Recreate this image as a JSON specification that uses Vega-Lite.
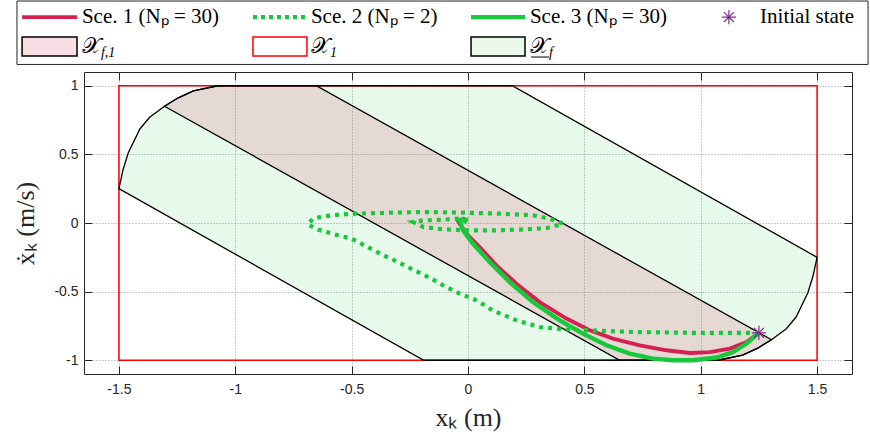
{
  "$schema": "https://vega.github.io/schema/vega-lite/v6.json",
  "width": 768,
  "height": 302,
  "autosize": "none",
  "padding": {"left": 84, "top": 72, "right": 18, "bottom": 65},
  "background": "white",
  "config": {
    "view": {"stroke": "#262626", "strokeWidth": 1},
    "axis": {
      "domain": false,
      "labelFont": "Liberation Sans",
      "labelFontSize": 14,
      "labelColor": "#262626",
      "tickColor": "#262626",
      "titleFont": "Liberation Serif",
      "titleFontWeight": "normal",
      "titleFontSize": 26,
      "titleColor": "#262626"
    }
  },
  "datasets": {
    "xf": [
      {"i": 0, "x": -1.5, "y": 0.25}, {"i": 1, "x": -1.482, "y": 0.39}, {"i": 2, "x": -1.46, "y": 0.51},
      {"i": 3, "x": -1.41, "y": 0.685}, {"i": 4, "x": -1.368, "y": 0.77}, {"i": 5, "x": -1.304, "y": 0.85},
      {"i": 6, "x": -1.245, "y": 0.912}, {"i": 7, "x": -1.18, "y": 0.963}, {"i": 8, "x": -1.08, "y": 0.998},
      {"i": 9, "x": -1.05, "y": 1}, {"i": 10, "x": 0.19, "y": 1}, {"i": 11, "x": 1.5, "y": -0.25},
      {"i": 12, "x": 1.482, "y": -0.39}, {"i": 13, "x": 1.46, "y": -0.51}, {"i": 14, "x": 1.41, "y": -0.685},
      {"i": 15, "x": 1.368, "y": -0.77}, {"i": 16, "x": 1.304, "y": -0.85}, {"i": 17, "x": 1.245, "y": -0.912},
      {"i": 18, "x": 1.18, "y": -0.963}, {"i": 19, "x": 1.08, "y": -0.998}, {"i": 20, "x": 1.05, "y": -1},
      {"i": 21, "x": -0.19, "y": -1}
    ],
    "xf1": [
      {"i": 0, "x": -1.304, "y": 0.85}, {"i": 1, "x": -1.245, "y": 0.912}, {"i": 2, "x": -1.18, "y": 0.963},
      {"i": 3, "x": -1.08, "y": 0.998}, {"i": 4, "x": -1.05, "y": 1}, {"i": 5, "x": -0.652, "y": 1},
      {"i": 6, "x": 1.304, "y": -0.85}, {"i": 7, "x": 1.245, "y": -0.912}, {"i": 8, "x": 1.18, "y": -0.963},
      {"i": 9, "x": 1.08, "y": -0.998}, {"i": 10, "x": 1.05, "y": -1}, {"i": 11, "x": 0.652, "y": -1}
    ],
    "sce1": [
      {"i": 0, "x": 1.25, "y": -0.8}, {"i": 1, "x": 1.197, "y": -0.867}, {"i": 2, "x": 1.125, "y": -0.915},
      {"i": 3, "x": 1.039, "y": -0.94}, {"i": 4, "x": 0.953, "y": -0.947}, {"i": 5, "x": 0.853, "y": -0.927},
      {"i": 6, "x": 0.738, "y": -0.891}, {"i": 7, "x": 0.623, "y": -0.842}, {"i": 8, "x": 0.523, "y": -0.781},
      {"i": 9, "x": 0.423, "y": -0.696}, {"i": 10, "x": 0.308, "y": -0.576}, {"i": 11, "x": 0.208, "y": -0.442},
      {"i": 12, "x": 0.122, "y": -0.308}, {"i": 13, "x": 0.05, "y": -0.175}, {"i": 14, "x": -0.007, "y": -0.078},
      {"i": 15, "x": -0.036, "y": -0.005}, {"i": 16, "x": -0.044, "y": 0.019}, {"i": 17, "x": -0.03, "y": 0.025}
    ],
    "sce2": [
      {"i": 0, "x": 1.25, "y": -0.8}, {"i": 1, "x": 0.996, "y": -0.801}, {"i": 2, "x": 0.709, "y": -0.794},
      {"i": 3, "x": 0.423, "y": -0.776}, {"i": 4, "x": 0.308, "y": -0.758}, {"i": 5, "x": 0.208, "y": -0.709},
      {"i": 6, "x": 0.107, "y": -0.638}, {"i": 7, "x": 0.036, "y": -0.563}, {"i": 8, "x": -0.036, "y": -0.514},
      {"i": 9, "x": -0.107, "y": -0.454}, {"i": 10, "x": -0.165, "y": -0.398}, {"i": 11, "x": -0.236, "y": -0.34},
      {"i": 12, "x": -0.308, "y": -0.279}, {"i": 13, "x": -0.372, "y": -0.228}, {"i": 14, "x": -0.437, "y": -0.17},
      {"i": 15, "x": -0.501, "y": -0.114}, {"i": 16, "x": -0.573, "y": -0.083}, {"i": 17, "x": -0.645, "y": -0.048},
      {"i": 18, "x": -0.688, "y": -0.01}, {"i": 19, "x": -0.666, "y": 0.032}, {"i": 20, "x": -0.623, "y": 0.048},
      {"i": 21, "x": -0.551, "y": 0.061}, {"i": 22, "x": -0.48, "y": 0.068}, {"i": 23, "x": -0.337, "y": 0.075},
      {"i": 24, "x": -0.193, "y": 0.08}, {"i": 25, "x": -0.007, "y": 0.075}, {"i": 26, "x": 0.136, "y": 0.068},
      {"i": 27, "x": 0.279, "y": 0.056}, {"i": 28, "x": 0.351, "y": 0.032}, {"i": 29, "x": 0.408, "y": -0.005},
      {"i": 30, "x": 0.337, "y": -0.037}, {"i": 31, "x": 0.222, "y": -0.048}, {"i": 32, "x": 0.107, "y": -0.054},
      {"i": 33, "x": -0.007, "y": -0.054}, {"i": 34, "x": -0.107, "y": -0.046}, {"i": 35, "x": -0.193, "y": -0.029},
      {"i": 36, "x": -0.236, "y": 0.007}, {"i": 37, "x": -0.193, "y": 0.019}, {"i": 38, "x": -0.107, "y": 0.024},
      {"i": 39, "x": -0.036, "y": 0.032}, {"i": 40, "x": 0.0, "y": 0.0}
    ],
    "sce3": [
      {"i": 0, "x": 1.25, "y": -0.8}, {"i": 1, "x": 1.197, "y": -0.878}, {"i": 2, "x": 1.139, "y": -0.94},
      {"i": 3, "x": 1.068, "y": -0.98}, {"i": 4, "x": 0.967, "y": -1.0}, {"i": 5, "x": 0.881, "y": -1.0},
      {"i": 6, "x": 0.795, "y": -0.988}, {"i": 7, "x": 0.695, "y": -0.951}, {"i": 8, "x": 0.595, "y": -0.891},
      {"i": 9, "x": 0.494, "y": -0.806}, {"i": 10, "x": 0.394, "y": -0.709}, {"i": 11, "x": 0.279, "y": -0.576},
      {"i": 12, "x": 0.179, "y": -0.43}, {"i": 13, "x": 0.093, "y": -0.284}, {"i": 14, "x": 0.021, "y": -0.15},
      {"i": 15, "x": -0.021, "y": -0.054}, {"i": 16, "x": -0.036, "y": 0.019}, {"i": 17, "x": -0.02, "y": 0.03},
      {"i": 18, "x": 0.0, "y": 0.02}
    ]
  },
  "layer": [
    {
      "data": {"values": [{"x": -1.5, "x2": 1.5, "y": -1, "y2": 1}]},
      "mark": {"type": "rect", "filled": false, "stroke": "#FF0000", "strokeWidth": 1.5},
      "encoding": {
        "x": {"field": "x", "type": "quantitative", "scale": {"domain": [-1.65, 1.65], "nice": false, "zero": false},
          "axis": {"values": [-1.5, -1, -0.5, 0, 0.5, 1, 1.5], "labelExpr": "datum.value + ''", "grid": true,
            "gridDash": [1, 2], "gridColor": "#9a9a9a", "tickSize": -8, "labelPadding": 16,
            "title": "xₖ  (m)", "titlePadding": 8}},
        "x2": {"field": "x2"},
        "y": {"field": "y", "type": "quantitative", "scale": {"domain": [-1.1, 1.1], "nice": false, "zero": false},
          "axis": {"values": [-1, -0.5, 0, 0.5, 1], "labelExpr": "datum.value + ''", "grid": true,
            "gridDash": [1, 2], "gridColor": "#9a9a9a", "tickSize": -8, "labelPadding": 14,
            "title": "ẋₖ  (m/s)", "titlePadding": 15}},
        "y2": {"field": "y2"}
      }
    },
    {
      "data": {"name": "xf"},
      "mark": {"type": "line", "interpolate": "linear-closed", "fill": "#14C832", "fillOpacity": 0.1, "stroke": "#000000", "strokeWidth": 1.3},
      "encoding": {
        "x": {"field": "x", "type": "quantitative", "scale": {"domain": [-1.65, 1.65], "nice": false, "zero": false},
          "axis": {"orient": "top", "values": [-1.5, -1, -0.5, 0, 0.5, 1, 1.5], "labels": false, "grid": false, "tickSize": -8, "title": null}},
        "y": {"field": "y", "type": "quantitative", "scale": {"domain": [-1.1, 1.1], "nice": false, "zero": false},
          "axis": {"orient": "right", "values": [-1, -0.5, 0, 0.5, 1], "labels": false, "grid": false, "tickSize": -8, "title": null}},
        "order": {"field": "i", "type": "quantitative"}
      }
    },
    {
      "data": {"name": "xf1"},
      "mark": {"type": "line", "interpolate": "linear-closed", "fill": "#DC1E50", "fillOpacity": 0.14, "stroke": "#000000", "strokeWidth": 1.3},
      "encoding": {
        "x": {"field": "x", "type": "quantitative", "scale": {"domain": [-1.65, 1.65], "nice": false, "zero": false}, "axis": null},
        "y": {"field": "y", "type": "quantitative", "scale": {"domain": [-1.1, 1.1], "nice": false, "zero": false}, "axis": null},
        "order": {"field": "i", "type": "quantitative"}
      }
    },
    {
      "data": {"name": "sce1"},
      "mark": {"type": "line", "stroke": "#D6204F", "strokeWidth": 3.8},
      "encoding": {
        "x": {"field": "x", "type": "quantitative", "scale": {"domain": [-1.65, 1.65], "nice": false, "zero": false}, "axis": null},
        "y": {"field": "y", "type": "quantitative", "scale": {"domain": [-1.1, 1.1], "nice": false, "zero": false}, "axis": null},
        "order": {"field": "i", "type": "quantitative"}
      }
    },
    {
      "data": {"name": "sce2"},
      "mark": {"type": "line", "stroke": "#17C83C", "strokeWidth": 4.2, "strokeDash": [4, 5], "strokeCap": "butt"},
      "encoding": {
        "x": {"field": "x", "type": "quantitative", "scale": {"domain": [-1.65, 1.65], "nice": false, "zero": false}, "axis": null},
        "y": {"field": "y", "type": "quantitative", "scale": {"domain": [-1.1, 1.1], "nice": false, "zero": false}, "axis": null},
        "order": {"field": "i", "type": "quantitative"}
      }
    },
    {
      "data": {"name": "sce3"},
      "mark": {"type": "line", "stroke": "#17C83C", "strokeWidth": 4.4},
      "encoding": {
        "x": {"field": "x", "type": "quantitative", "scale": {"domain": [-1.65, 1.65], "nice": false, "zero": false}, "axis": null},
        "y": {"field": "y", "type": "quantitative", "scale": {"domain": [-1.1, 1.1], "nice": false, "zero": false}, "axis": null},
        "order": {"field": "i", "type": "quantitative"}
      }
    },
    {
      "data": {"values": [{"x": -1.938, "x2": 1.719, "y": 1.617, "y2": 1.155}]},
      "mark": {"type": "rect", "fill": "white", "stroke": "#262626", "strokeWidth": 1},
      "encoding": {
        "x": {"field": "x", "type": "quantitative", "scale": {"domain": [-1.65, 1.65], "nice": false, "zero": false}, "axis": null},
        "x2": {"field": "x2"},
        "y": {"field": "y", "type": "quantitative", "scale": {"domain": [-1.1, 1.1], "nice": false, "zero": false}, "axis": null},
        "y2": {"field": "y2"}
      }
    },
    {
      "data": {"values": [{"x": 1.25, "y": -0.8}, {"x": 1.121, "y": 1.5}]},
      "mark": {"type": "point", "shape": "M-1,0H1M0,-1V1M-0.7,-0.7L0.7,0.7M-0.7,0.7L0.7,-0.7", "filled": false, "stroke": "#7E2F8E", "strokeWidth": 1.2, "size": 200, "opacity": 1},
      "encoding": {
        "x": {"field": "x", "type": "quantitative", "scale": {"domain": [-1.65, 1.65], "nice": false, "zero": false}, "axis": null},
        "y": {"field": "y", "type": "quantitative", "scale": {"domain": [-1.1, 1.1], "nice": false, "zero": false}, "axis": null}
      }
    },
    {
      "data": {"values": [{"x": -1.916, "x2": -1.68, "y": 1.5}]},
      "mark": {"type": "rule", "stroke": "#D6204F", "strokeWidth": 3.8},
      "encoding": {
        "x": {"field": "x", "type": "quantitative", "scale": {"domain": [-1.65, 1.65], "nice": false, "zero": false}, "axis": null},
        "x2": {"field": "x2"},
        "y": {"field": "y", "type": "quantitative", "scale": {"domain": [-1.1, 1.1], "nice": false, "zero": false}, "axis": null}
      }
    },
    {
      "data": {"values": [{"x": -0.924, "x2": -0.692, "y": 1.5}]},
      "mark": {"type": "rule", "stroke": "#17C83C", "strokeWidth": 4.2, "strokeDash": [4, 4], "strokeCap": "butt"},
      "encoding": {
        "x": {"field": "x", "type": "quantitative", "scale": {"domain": [-1.65, 1.65], "nice": false, "zero": false}, "axis": null},
        "x2": {"field": "x2"},
        "y": {"field": "y", "type": "quantitative", "scale": {"domain": [-1.1, 1.1], "nice": false, "zero": false}, "axis": null}
      }
    },
    {
      "data": {"values": [{"x": 0.013, "x2": 0.245, "y": 1.5}]},
      "mark": {"type": "rule", "stroke": "#17C83C", "strokeWidth": 4.4},
      "encoding": {
        "x": {"field": "x", "type": "quantitative", "scale": {"domain": [-1.65, 1.65], "nice": false, "zero": false}, "axis": null},
        "x2": {"field": "x2"},
        "y": {"field": "y", "type": "quantitative", "scale": {"domain": [-1.1, 1.1], "nice": false, "zero": false}, "axis": null}
      }
    },
    {
      "data": {"values": [
        {"set": "Xf1", "x": -1.916, "x2": -1.68, "y": 1.355, "y2": 1.217},
        {"set": "X1", "x": -0.924, "x2": -0.692, "y": 1.355, "y2": 1.217},
        {"set": "Xf", "x": 0.013, "x2": 0.245, "y": 1.355, "y2": 1.217}
      ]},
      "mark": {"type": "rect", "strokeWidth": 1.5},
      "encoding": {
        "x": {"field": "x", "type": "quantitative", "scale": {"domain": [-1.65, 1.65], "nice": false, "zero": false}, "axis": null},
        "x2": {"field": "x2"},
        "y": {"field": "y", "type": "quantitative", "scale": {"domain": [-1.1, 1.1], "nice": false, "zero": false}, "axis": null},
        "y2": {"field": "y2"},
        "fill": {"field": "set", "type": "nominal", "scale": {"domain": ["Xf1", "X1", "Xf"], "range": ["#F9DEE4", "#FFFFFF", "#EAF8EA"]}, "legend": null},
        "stroke": {"field": "set", "type": "nominal", "scale": {"domain": ["Xf1", "X1", "Xf"], "range": ["#000000", "#FF0000", "#000000"]}, "legend": null}
      }
    },
    {
      "data": {"values": [
        {"x": -1.659, "y": 1.5, "label": "Sce. 1 (Nₚ = 30)"},
        {"x": -0.675, "y": 1.5, "label": "Sce. 2 (Nₚ = 2)"},
        {"x": 0.266, "y": 1.5, "label": "Sce. 3 (Nₚ = 30)"},
        {"x": 1.255, "y": 1.5, "label": "Initial state"}
      ]},
      "mark": {"type": "text", "font": "Liberation Serif", "fontSize": 21, "align": "left", "baseline": "middle", "color": "#000000"},
      "encoding": {
        "x": {"field": "x", "type": "quantitative", "scale": {"domain": [-1.65, 1.65], "nice": false, "zero": false}, "axis": null},
        "y": {"field": "y", "type": "quantitative", "scale": {"domain": [-1.1, 1.1], "nice": false, "zero": false}, "axis": null},
        "text": {"field": "label"}
      }
    },
    {
      "data": {"values": [
        {"x": -1.659, "y": 1.29, "label": "𝒳"},
        {"x": -0.675, "y": 1.29, "label": "𝒳"},
        {"x": 0.266, "y": 1.29, "label": "𝒳"}
      ]},
      "mark": {"type": "text", "font": "Liberation Serif", "fontSize": 22, "align": "left", "baseline": "middle", "color": "#000000"},
      "encoding": {
        "x": {"field": "x", "type": "quantitative", "scale": {"domain": [-1.65, 1.65], "nice": false, "zero": false}, "axis": null},
        "y": {"field": "y", "type": "quantitative", "scale": {"domain": [-1.1, 1.1], "nice": false, "zero": false}, "axis": null},
        "text": {"field": "label"}
      }
    },
    {
      "data": {"values": [
        {"x": -1.659, "y": 1.29, "label": "f,1"},
        {"x": -0.675, "y": 1.29, "label": "1"},
        {"x": 0.266, "y": 1.29, "label": "f"}
      ]},
      "mark": {"type": "text", "font": "Liberation Serif", "fontSize": 14, "fontStyle": "italic", "align": "left", "baseline": "middle", "color": "#000000", "dx": 19, "dy": 7},
      "encoding": {
        "x": {"field": "x", "type": "quantitative", "scale": {"domain": [-1.65, 1.65], "nice": false, "zero": false}, "axis": null},
        "y": {"field": "y", "type": "quantitative", "scale": {"domain": [-1.1, 1.1], "nice": false, "zero": false}, "axis": null},
        "text": {"field": "label"}
      }
    },
    {
      "data": {"values": [{"x": 0.271, "x2": 0.348, "y": 1.209}]},
      "mark": {"type": "rule", "stroke": "#000000", "strokeWidth": 1},
      "encoding": {
        "x": {"field": "x", "type": "quantitative", "scale": {"domain": [-1.65, 1.65], "nice": false, "zero": false}, "axis": null},
        "x2": {"field": "x2"},
        "y": {"field": "y", "type": "quantitative", "scale": {"domain": [-1.1, 1.1], "nice": false, "zero": false}, "axis": null}
      }
    }
  ],
  "resolve": {"axis": {"x": "independent", "y": "independent"}}
}
